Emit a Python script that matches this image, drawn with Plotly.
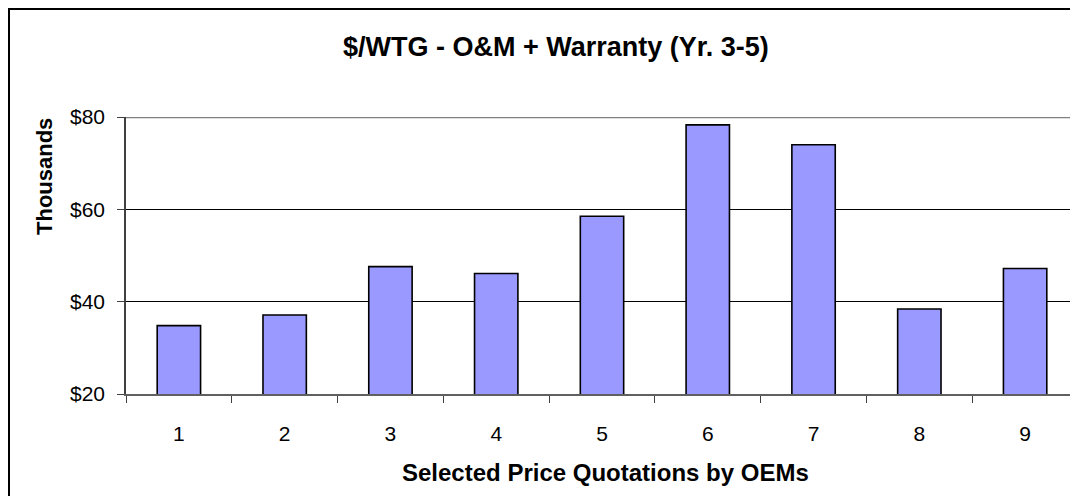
"""
$/WTG - O&M + Warranty (Yr. 3-5) bar chart, Excel-style.
"""
import plotly.graph_objects as go

BEIGE  = "#F4D993"
BAR    = "#9999FF"
FONT   = "Liberation Sans, Arial, sans-serif"

# data
quotes = ["1", "2", "3", "4", "5", "6", "7", "8", "9"]
cost_k = [34.8, 37.1, 47.6, 46.1, 58.5, 78.3, 74.0, 38.4, 47.2]
y_ticks = [20, 40, 60, 80]
y_labels = ["$20", "$40", "$60", "$80"]

# plot area in figure pixels (page adds an 8px offset)
W, H = 1070, 488
L, T, R, B = 118, 109, 1070, 386


def px(x, y):
    return (x - L) / (R - L), (B - y) / (B - T)


fig = go.Figure(go.Bar(
    x=quotes, y=cost_k,
    marker=dict(color=BAR, line=dict(color="black", width=1.6)),
    width=0.41,
    hovertemplate="Quote %{x}<br>$%{y:.1f}k<extra></extra>",
))

x0, y0 = px(1, H + 20)
x1, y1 = px(W + 40, 1)
tx, ty = px(548, 39)
ax_, ay_ = px(36, 169)
bx, by = px(597, 464)

fig.update_layout(
    width=W, height=H,
    paper_bgcolor=BEIGE, plot_bgcolor="white",
    font=dict(family=FONT, color="black", size=21),
    margin=dict(l=L, r=W - R, t=T, b=H - B),
    showlegend=False,
    shapes=[
        # white chart area with dark border
        dict(type="rect", xref="paper", yref="paper",
             x0=x0, x1=x1, y0=y0, y1=y1,
             fillcolor="white", line=dict(color="black", width=2), layer="below"),
        # grey plot-area border at the top
        dict(type="line", xref="paper", yref="y", x0=0, x1=1, y0=80, y1=80,
             line=dict(color="#808080", width=2.5)),
    ],
    annotations=[
        dict(text="<b>$/WTG - O&M + Warranty (Yr. 3-5)</b>", xref="paper", yref="paper",
             x=tx, y=ty, showarrow=False, font=dict(size=27),
             xanchor="center", yanchor="middle"),
        dict(text="<b>Thousands</b>", xref="paper", yref="paper",
             x=ax_, y=ay_, showarrow=False, textangle=-90, font=dict(size=22),
             xanchor="center", yanchor="middle"),
        dict(text="<b>Selected Price Quotations by OEMs</b>", xref="paper", yref="paper",
             x=bx, y=by, showarrow=False, font=dict(size=24),
             xanchor="center", yanchor="middle"),
    ],
)

fig.update_yaxes(
    range=[20, 80], tickvals=y_ticks, ticktext=y_labels,
    showgrid=True, gridcolor="black", gridwidth=1,
    showline=True, linecolor="#404040", linewidth=1.5,
    ticks="outside", ticklen=7, tickcolor="#404040",
    ticklabelstandoff=8, zeroline=False, fixedrange=True,
)
fig.update_xaxes(
    type="category", showgrid=False,
    showline=True, linecolor="#606060", linewidth=2,
    ticks="outside", tickson="boundaries", ticklen=7, tickcolor="#404040",
    ticklabelstandoff=20, fixedrange=True,
)

fig.write_html("out.html")
